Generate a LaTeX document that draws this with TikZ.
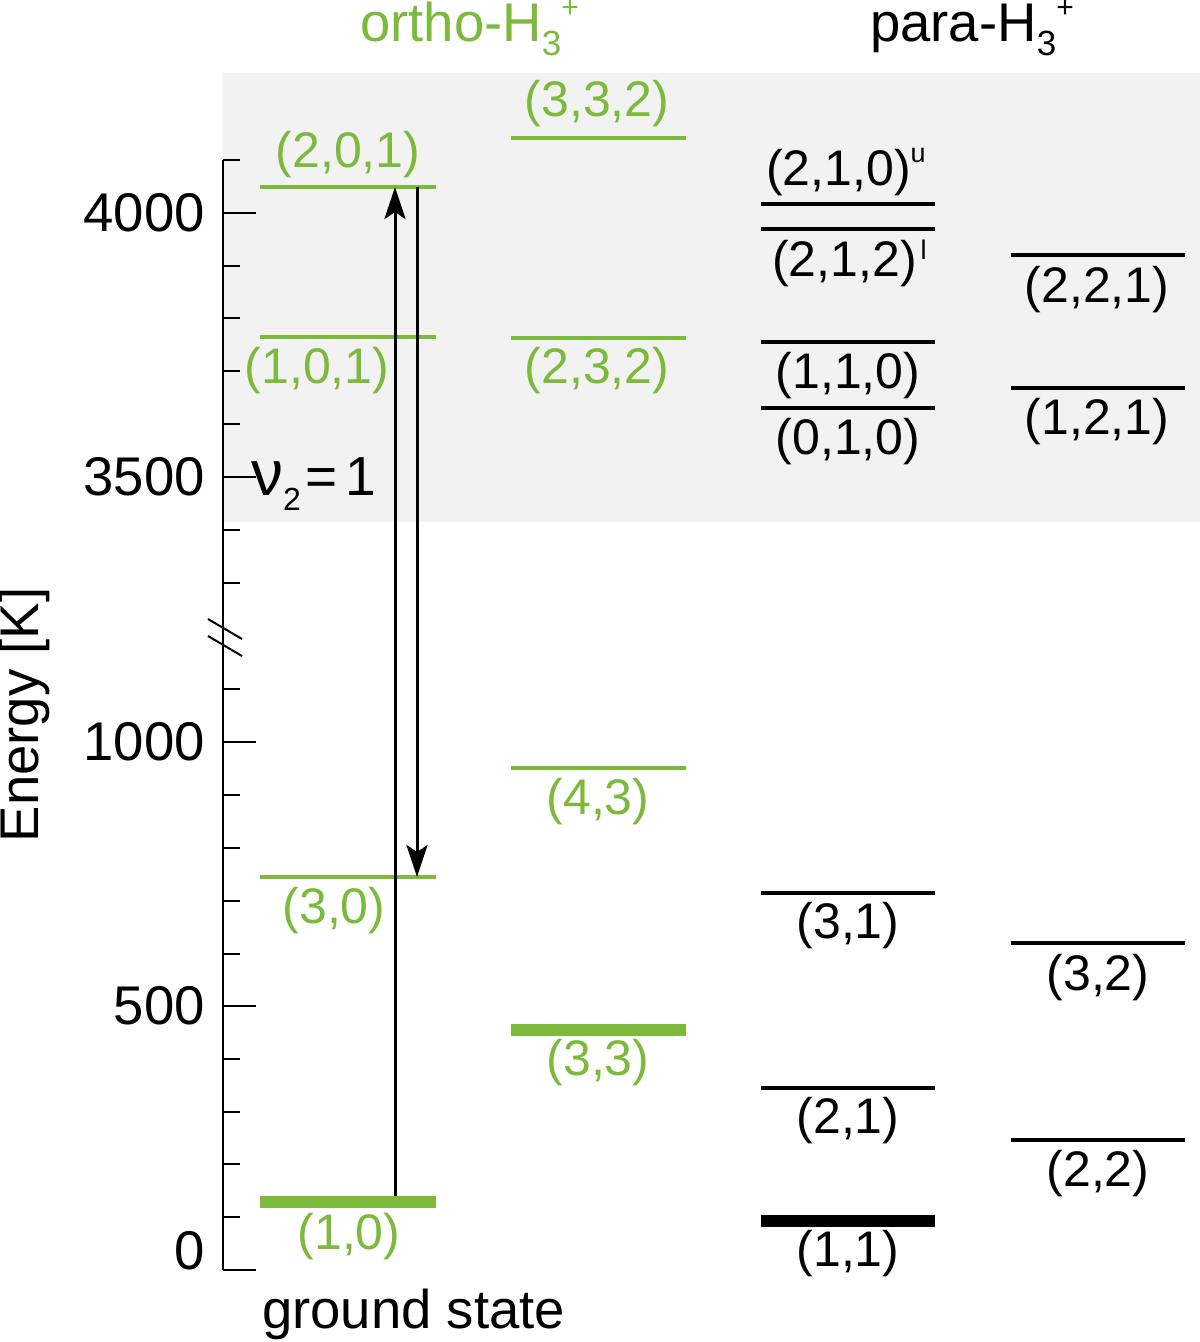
\documentclass[tikz,border=0pt]{standalone}
\usepackage{fontspec}
\setmainfont{Liberation Sans}
\usetikzlibrary{arrows.meta}
\definecolor{og}{HTML}{7BBA3A}
\definecolor{bgg}{HTML}{F2F2F2}
\newcommand\Hthr{H\raisebox{-14pt}{\fontsize{35}{40}\selectfont 3}\raisebox{24pt}{\fontsize{30}{34}\selectfont +}}
\newcommand\supu{\raisebox{23pt}{\fontsize{27}{30}\selectfont u}}
\newcommand\supl{\raisebox{17pt}{\fontsize{27}{30}\selectfont l}}
\begin{document}
\begin{tikzpicture}[x=1pt,y=-1pt,
  lvl/.style={line width=4pt},
  lvlthick/.style={line width=12pt},
  lab/.style={inner sep=0pt, font=\fontsize{50}{60}\selectfont},
  big/.style={inner sep=0pt, font=\fontsize{54.5}{64}\selectfont},
  axisline/.style={line width=2pt},
  arr/.style={line width=3pt, -{Stealth[length=32pt,width=21pt,inset=7pt]}}
]
\useasboundingbox (0,0) rectangle (1200,1342);
\fill[bgg] (223,73) rectangle (1200,522);

% axis
\draw[axisline] (223,160) -- (223,1270);
\foreach \y in {1270,1006,742,477,213} \draw[axisline] (223,\y) -- (256,\y);
\foreach \y in {1217,1164,1112,1059,954,901,848,795,689,583,530,424,371,318,266,160}
  \draw[axisline] (223,\y) -- (240,\y);
\draw[axisline] (208,619) -- (242,639);
\draw[axisline] (208,636) -- (242,656);
\node[big, anchor=east] (t4000) at (205,213) {4000};
\node[big, anchor=east] (t3500) at (205,477) {3500};
\node[big, anchor=east] (t1000) at (205,742) {1000};
\node[big, anchor=east] (t500) at (205,1006) {500};
\node[big, anchor=east] (t0) at (205,1251) {0};
\node[big, rotate=90] (elab) at (24,715) {Energy [K]};

% titles
\node[big, anchor=base west, text=og] (ortho) at (360,41) {ortho-\Hthr};
\node[big, anchor=base west] (para) at (870,41) {para-\Hthr};
\node[big, anchor=base west] (gs) at (262,1328) {ground state};
\node[big, anchor=base west, font=\fontsize{55}{64}\selectfont] (nu) at (251,495)
  {{\fontsize{64}{70}\selectfont ν}\raisebox{-15pt}{\fontsize{32}{36}\selectfont 2}\hspace{5pt}=\hspace{7pt}1};

% ortho column 1
\draw[lvl, og] (260,187) coordinate (a1) -- (436,187) coordinate (a2);
\draw[lvl, og] (260,337) -- (436,337);
\draw[lvl, og] (260,877) coordinate (c1) -- (436,877) coordinate (c2);
\draw[lvlthick, og] (260,1202) coordinate (d1) -- (436,1202) coordinate (d2);
\node[lab, text=og] (l201) at (348,155) {(2,0,1)};
\node[lab, text=og] (l101) at (317,371) {(1,0,1)};
\node[lab, text=og] (l30) at (334,911) {(3,0)};
\node[lab, text=og] (l10) at (349,1237) {(1,0)};

% ortho column 2
\draw[lvl, og] (511,138) -- (686,138);
\draw[lvl, og] (511,338) -- (686,338);
\draw[lvl, og] (511,768) -- (686,768);
\draw[lvlthick, og] (511,1030) -- (686,1030);
\node[lab, text=og] (l332) at (597,104) {(3,3,2)};
\node[lab, text=og] (l232) at (597,371) {(2,3,2)};
\node[lab, text=og] (l43) at (598,802) {(4,3)};
\node[lab, text=og] (l33) at (598,1063) {(3,3)};

% para column 3
\draw[lvl] (761,204) -- (935,204);
\draw[lvl] (761,229) -- (935,229);
\draw[lvl] (761,342) -- (935,342);
\draw[lvl] (761,408) -- (935,408);
\draw[lvl] (761,893) -- (935,893);
\draw[lvl] (761,1088) -- (935,1088);
\draw[lvlthick] (761,1221) -- (935,1221);
\node[lab, anchor=west] (l210) at (766,172) {(2,1,0)\supu};
\node[lab, anchor=west] (l212) at (772,263) {(2,1,2)\hspace{4pt}\supl};
\node[lab] (l110) at (848,376) {(1,1,0)};
\node[lab] (l010) at (848,442) {(0,1,0)};
\node[lab] (l31) at (848,926) {(3,1)};
\node[lab] (l21) at (848,1121) {(2,1)};
\node[lab] (l11) at (848,1254) {(1,1)};

% para column 4
\draw[lvl] (1011,255) -- (1185,255);
\draw[lvl] (1011,388) -- (1185,388);
\draw[lvl] (1011,943) -- (1185,943);
\draw[lvl] (1011,1140) -- (1185,1140);
\node[lab] (l221) at (1097,290) {(2,2,1)};
\node[lab] (l121) at (1097,422) {(1,2,1)};
\node[lab] (l32) at (1098,978) {(3,2)};
\node[lab] (l22) at (1098,1174) {(2,2)};

% transitions
\coordinate (upS) at (395,1196);
\coordinate (upE) at (395,187);
\coordinate (dnS) at (417,187);
\coordinate (dnE) at (417,877);
\draw[arr] (upS) -- (upE);
\draw[arr] (dnS) -- (dnE);
\end{tikzpicture}
\end{document}
